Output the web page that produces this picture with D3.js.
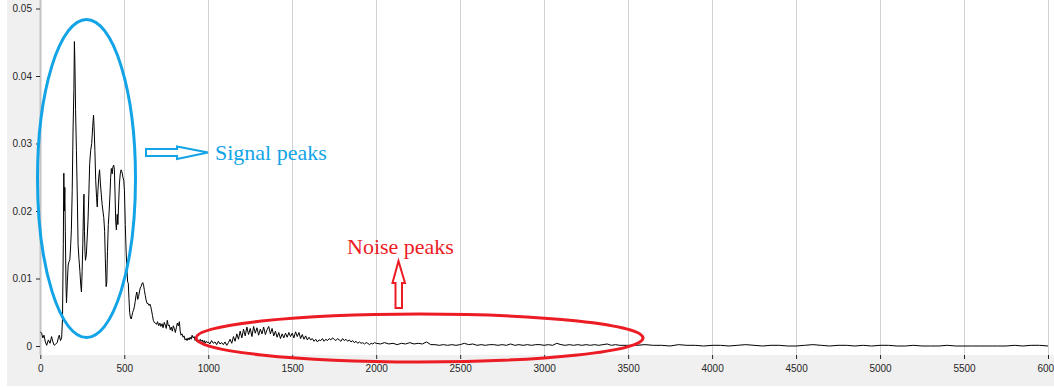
<!DOCTYPE html>
<html>
<head>
<meta charset="utf-8">
<script src="https://cdn.jsdelivr.net/npm/d3@7"></script>
<style>
  html, body { margin: 0; padding: 0; background: #ffffff; }
  svg { display: block; }
  .tick text { font-family: "Liberation Sans", Arial, sans-serif; font-size: 10px; fill: #262626; }
  .tick line { stroke: #262626; }
</style>
</head>
<body>
<svg id="chart" width="1054" height="387"></svg>
<script>
// Spectrum amplitude versus frequency.
// Low band (0–1000): irregularly spaced samples [frequency, amplitude].
const signalPoints = [
  [0,0.0021],[8,0.0019],[15,0.0012],[22,0.0016],[30,0.0006],[38,0.0001],[48,0.0009],[58,0.0004],
  [67,0.0014],[75,0.0006],[83,0.0001],[92,0.0003],[101,0.0005],[107,0.0012],[113,0.0016],[120,0.0008],
  [127,0.0012],[132,0.0039],[137,0.0150],[140,0.0256],[143,0.0200],[146,0.0235],[149,0.0170],[153,0.0090],
  [156,0.0064],[161,0.0095],[166,0.0120],[171,0.0125],[176,0.0128],[181,0.0150],[185,0.0172],[190,0.0230],
  [195,0.0320],[200,0.0380],[203,0.0451],[206,0.0420],[210,0.0350],[215,0.0290],[221,0.0212],[225,0.0150],
  [230,0.0130],[236,0.0110],[241,0.0090],[245,0.0080],[249,0.0110],[253,0.0150],[257,0.0200],[260,0.0225],
  [263,0.0170],[266,0.0140],[269,0.0127],[274,0.0135],[279,0.0160],[284,0.0185],[289,0.0225],[294,0.0270],
  [300,0.0290],[306,0.0300],[312,0.0325],[317,0.0342],[321,0.0320],[325,0.0290],[330,0.0245],[335,0.0220],
  [339,0.0206],[343,0.0230],[348,0.0250],[353,0.0261],[358,0.0240],[363,0.0225],[368,0.0210],[373,0.0200],
  [378,0.0190],[383,0.0170],[387,0.0130],[392,0.0088],[396,0.0095],[400,0.0140],[405,0.0180],[410,0.0200],
  [415,0.0225],[419,0.0250],[423,0.0263],[428,0.0255],[432,0.0265],[437,0.0268],[441,0.0262],[445,0.0225],
  [449,0.0185],[453,0.0172],[458,0.0195],[462,0.0180],[467,0.0215],[471,0.0240],[476,0.0255],[481,0.0261],
  [486,0.0258],[492,0.0250],[497,0.0245],[501,0.0230],[506,0.0180],[511,0.0140],[516,0.0113],[520,0.0095],
  [524,0.0093],[528,0.0070],[532,0.0050],[536,0.0043],[541,0.0040],[546,0.0045],[550,0.0050],[555,0.0053],
  [560,0.0058],[565,0.0066],[570,0.0075],[575,0.0080],[580,0.0069],[585,0.0073],[590,0.0080],[595,0.0086],
  [600,0.0088],[605,0.0092],[610,0.0094],[615,0.0090],[620,0.0082],[625,0.0075],[630,0.0068],[636,0.0063],
  [642,0.0063],[648,0.0060],[653,0.0062],[658,0.0058],[663,0.0052],[668,0.0045],[673,0.0038],[678,0.0035],
  [685,0.0034],[692,0.0032],[698,0.0036],[705,0.0030],[712,0.0034],[718,0.0029],[725,0.0033],[731,0.0027],
  [738,0.0035],[744,0.0031],[750,0.0026],[756,0.0038],[762,0.0030],[768,0.0031],[774,0.0024],[780,0.0028],
  [786,0.0022],[792,0.0030],[798,0.0026],[804,0.0020],[810,0.0027],[816,0.0034],[822,0.0030],[828,0.0036],
  [833,0.0022],[838,0.0016],[844,0.0018],[850,0.0013],[856,0.0015],[862,0.0009],[868,0.0011],[874,0.0008],
  [880,0.0012],[886,0.0009],[892,0.0013],[898,0.0010],[904,0.0016],[910,0.0012],[916,0.0014],[922,0.0008],
  [928,0.0010],[934,0.0006],[940,0.0009],[946,0.0005],[952,0.0010],[958,0.0007],[964,0.0009],[970,0.0005],
  [976,0.0008],[982,0.0004],[988,0.0007],[994,0.0005]
];

// 1000–1990, sampled every 10.
const noiseStart = 1000, noiseStep = 10;
const noiseAmp = [
  0.0006,0.0003,0.0008,0.0004,0.0006,0.0002,0.0007,0.0003,0.0005,0.0002,
  0.0006,0.0001,0.0005,0.0010,0.0004,0.0014,0.0007,0.0018,0.0010,0.0022,
  0.0012,0.0025,0.0015,0.0028,0.0017,0.0026,0.0014,0.0029,0.0019,0.0027,
  0.0016,0.0025,0.0018,0.0028,0.0017,0.0024,0.0029,0.0018,0.0026,0.0015,
  0.0022,0.0013,0.0020,0.0011,0.0018,0.0012,0.0019,0.0013,0.0020,0.0014,
  0.0019,0.0012,0.0021,0.0014,0.0020,0.0011,0.0017,0.0010,0.0015,0.0009,
  0.0013,0.0009,0.0011,0.0007,0.0010,0.0006,0.0009,0.0008,0.0011,0.0007,
  0.0010,0.0008,0.0011,0.0009,0.0012,0.0010,0.0008,0.0011,0.0009,0.0007,
  0.0011,0.0008,0.0010,0.0007,0.0009,0.0006,0.0008,0.0005,0.0007,0.0004,
  0.0006,0.0004,0.0005,0.0003,0.0005,0.0004,0.0002,0.0004,0.0003,0.0005
];

// 2000–3475, sampled every 25.
const driftStart = 2000, driftStep = 25;
const driftAmp = [
  0.0004,0.0003,0.0005,0.0003,0.0004,0.0002,0.0004,0.0003,0.0005,0.0003,
  0.0004,0.0003,0.0006,0.0002,0.0002,0.0001,0.0002,0.0001,0.0002,0.0001,
  0.0002,0.0004,0.0002,0.0003,0.0001,0.0002,0.0001,0.0002,0.0002,0.0001,
  0.0002,0.0001,0.0003,0.0001,0.0002,0.0001,0.0002,0.0001,0.0002,0.0002,
  0.0001,0.0002,0.0001,0.0004,0.0002,0.0001,0.0002,0.0001,0.0002,0.0001,
  0.0002,0.0001,0.0002,0.0001,0.0002,0.0003,0.0001,0.0002,0.0001,0.0001
];

// 3500–6000, sampled every 50.
const tailStart = 3500, tailStep = 50;
const tailAmp = [
  0.0001,0.0001,0.0002,0.0001,0.0001,0.0000,0.0002,0.0001,0.0001,0.0000,
  0.0001,0.0001,0.0000,0.0001,0.0002,0.0001,0.0000,0.0001,0.0001,0.0000,
  0.0000,0.0001,0.0002,0.0001,0.0000,0.0001,0.0001,0.0000,0.0001,0.0000,
  0.0001,0.0001,0.0000,0.0000,0.0001,0.0000,0.0000,0.0000,0.0001,0.0000,
  0.0000,0.0000,0.0000,0.0000,0.0000,0.0000,0.0001,0.0000,0.0001,0.0001,0.0000
];

const xTicks = [0,500,1000,1500,2000,2500,3000,3500,4000,4500,5000,5500,6000];
const yTicks = [0,0.01,0.02,0.03,0.04,0.05];
const yTickLabels = ["0","0.01","0.02","0.03","0.04","0.05"];

// Assemble one ordered series.
const series = signalPoints.map(([f, v]) => ({f, v}))
  .concat(noiseAmp.map((v, i) => ({f: noiseStart + i * noiseStep, v})))
  .concat(driftAmp.map((v, i) => ({f: driftStart + i * driftStep, v})))
  .concat(tailAmp.map((v, i) => ({f: tailStart + i * tailStep, v})));

const W = 1054, H = 387;
const plot = {left: 40, top: 0, right: 1054, bottom: 355};

const x = d3.scaleLinear().domain([0, 6000]).range([40.3, 1048]);
const y = d3.scaleLinear().domain([0, 0.05]).range([346, 8.5]);

const svg = d3.select("#chart");

// Panel and plot background
svg.append("rect").attr("x", 7).attr("y", 0).attr("width", W - 7).attr("height", 386).attr("fill", "#f0f0f0");
svg.append("rect").attr("x", plot.left).attr("y", plot.top)
  .attr("width", plot.right - plot.left).attr("height", plot.bottom - plot.top).attr("fill", "#ffffff");

// Vertical grid lines
svg.append("g").selectAll("line").data(xTicks.filter(d => d > 0)).join("line")
  .attr("x1", d => Math.round(x(d)) + 0.5).attr("x2", d => Math.round(x(d)) + 0.5)
  .attr("y1", plot.top).attr("y2", plot.bottom)
  .attr("stroke", "#d2d2d2").attr("stroke-width", 1);

// Y axis line
svg.append("line").attr("x1", 40.5).attr("x2", 40.5).attr("y1", 0).attr("y2", plot.bottom)
  .attr("stroke", "#c4c4c4").attr("stroke-width", 2);

// Axes
const yAxis = d3.axisLeft(y).tickValues(yTicks)
  .tickFormat((d, i) => yTickLabels[i]).tickSize(4).tickPadding(4);
svg.append("g").attr("transform", "translate(40,0)").call(yAxis)
  .call(g => g.select(".domain").remove());

const xAxis = d3.axisBottom(x).tickValues(xTicks).tickFormat(d3.format("d")).tickSize(4).tickPadding(6);
svg.append("g").attr("transform", `translate(0,${plot.bottom})`).call(xAxis)
  .call(g => g.select(".domain").remove());

// Spectrum line
svg.append("clipPath").attr("id", "plotClip").append("rect")
  .attr("x", plot.left).attr("y", plot.top)
  .attr("width", plot.right - plot.left).attr("height", plot.bottom - plot.top);

const line = d3.line().x(d => x(d.f)).y(d => y(d.v));
svg.append("path").datum(series)
  .attr("clip-path", "url(#plotClip)")
  .attr("d", line).attr("fill", "none")
  .attr("stroke", "#000000").attr("stroke-width", 1).attr("stroke-linejoin", "round");

// Annotations
const blue = "#12a4e6", red = "#ec1c24";
const ann = svg.append("g");

ann.append("ellipse").attr("cx", 86.5).attr("cy", 178.5).attr("rx", 49).attr("ry", 159)
  .attr("fill", "none").attr("stroke", blue).attr("stroke-width", 3);

ann.append("path")
  .attr("d", "M146,149 L177,149 L177,146.5 L208,152.5 L177,159 L177,156 L146,156 Z")
  .attr("fill", "#ffffff").attr("stroke", blue).attr("stroke-width", 2).attr("stroke-linejoin", "miter");

ann.append("text").attr("x", 215).attr("y", 160)
  .attr("font-family", "'Liberation Serif', 'Times New Roman', serif").attr("font-size", 22)
  .attr("fill", blue).text("Signal peaks");

ann.append("ellipse").attr("cx", 419.5).attr("cy", 338).attr("rx", 223.5).attr("ry", 24)
  .attr("fill", "none").attr("stroke", red).attr("stroke-width", 3);

ann.append("path")
  .attr("d", "M398.5,261 L405,283 L402,283 L402,308 L395.5,308 L395.5,283 L392.5,283 Z")
  .attr("fill", "#ffffff").attr("stroke", red).attr("stroke-width", 2).attr("stroke-linejoin", "miter");

ann.append("text").attr("x", 347).attr("y", 253.5)
  .attr("font-family", "'Liberation Serif', 'Times New Roman', serif").attr("font-size", 22)
  .attr("fill", red).text("Noise peaks");
</script>
</body>
</html>
